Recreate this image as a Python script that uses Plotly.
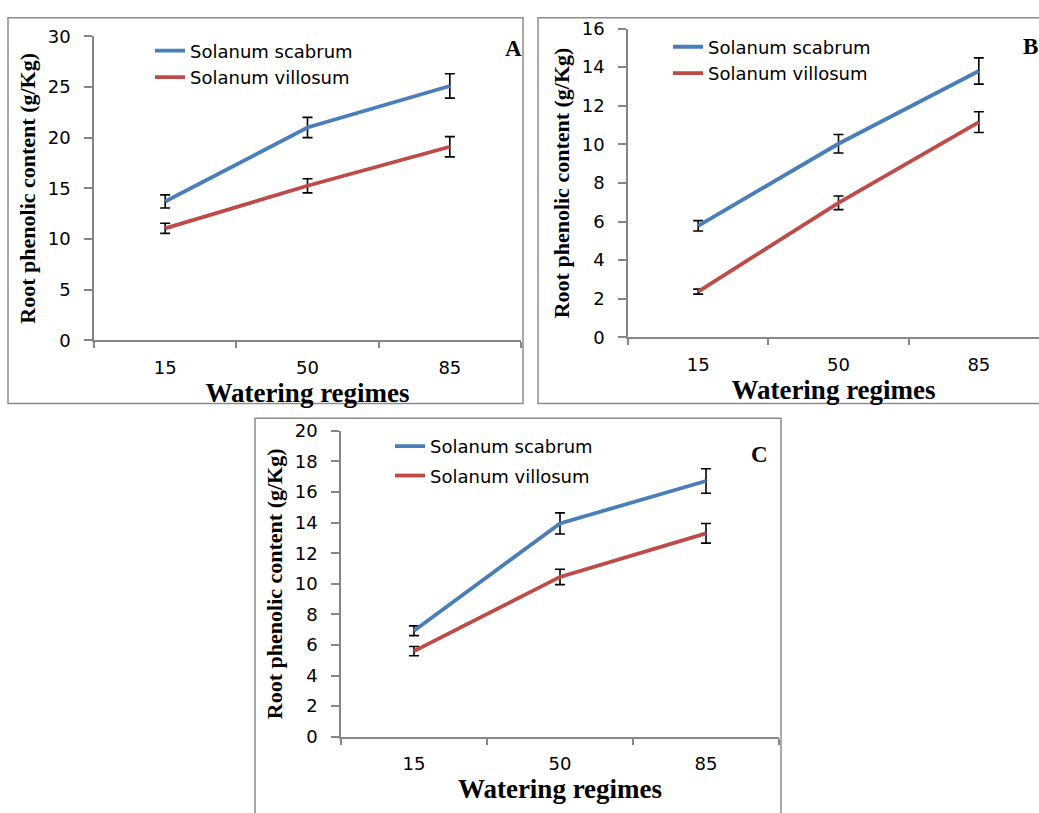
import plotly.graph_objects as go

W, H = 1039, 813

regimes = ["15", "50", "85"]

# Panel A
a_scabrum = [13.7, 21.0, 25.1]
a_scabrum_err = [0.65, 1.0, 1.2]
a_villosum = [11.05, 15.25, 19.1]
a_villosum_err = [0.5, 0.7, 1.0]

# Panel B
b_scabrum = [5.78, 10.03, 13.8]
b_scabrum_err = [0.27, 0.48, 0.68]
b_villosum = [2.37, 6.97, 11.15]
b_villosum_err = [0.13, 0.35, 0.54]

# Panel C
c_scabrum = [6.93, 13.95, 16.72]
c_scabrum_err = [0.32, 0.69, 0.8]
c_villosum = [5.6, 10.45, 13.3]
c_villosum_err = [0.3, 0.5, 0.64]

y_title = "Root phenolic content (g/Kg)"
x_title = "Watering regimes"
names = ["Solanum scabrum", "Solanum villosum"]

BLUE = "#4A7EBB"
RED = "#BE4B48"
GRAY = "#868686"
SANS = "DejaVu Sans"
SERIF = "Liberation Serif"


def px(x):
    return x / W


def py(y):
    return 1 - y / H


fig = go.Figure()

panels = [
    ("", (a_scabrum, a_scabrum_err, a_villosum, a_villosum_err), "legend",
     (94, 521), (26, 338), 30, 5, 2.5),
    ("2", (b_scabrum, b_scabrum_err, b_villosum, b_villosum_err), "legend2",
     (628, 1039), (18, 335), 16, 2, -0.5 + 3 * (1039 - 628) / (1049 - 628)),
    ("3", (c_scabrum, c_scabrum_err, c_villosum, c_villosum_err), "legend3",
     (341, 779), (431, 745), 20, 2, 2.5),
]

for i, (sfx, data, leg, xd, yd, ymax, dt, xend) in enumerate(panels):
    s, se, v, ve = data
    for vals, errs, name, col in ((s, se, names[0], BLUE), (v, ve, names[1], RED)):
        fig.add_trace(go.Scatter(
            x=regimes, y=vals, name=name, mode="lines",
            line=dict(color=col, width=3.8),
            error_y=dict(type="data", array=errs, visible=True,
                         color="black", thickness=1.6, width=5),
            xaxis="x" + sfx, yaxis="y" + sfx, legend=leg,
            legendgroup=f"{leg}_{name}",
        ))
    fig.layout["xaxis" + sfx] = dict(
        domain=[px(xd[0]), px(xd[1])], anchor="y" + sfx, type="category",
        range=[-0.5, xend], showline=True, linecolor=GRAY, linewidth=1.5,
        ticks="outside", tickson="boundaries", ticklen=6, tickcolor=GRAY,
        tickwidth=1.5, showgrid=False, zeroline=False,
        tickfont=dict(family=SANS, size=18, color="black"),
        ticklabelstandoff=10,
        title=dict(text=x_title, standoff=1,
                   font=dict(family=SERIF, size=27, color="black", weight="bold")),
    )
    fig.layout["yaxis" + sfx] = dict(
        domain=[py(yd[1]), py(yd[0])], anchor="x" + sfx,
        range=[0, ymax], dtick=dt, showline=True, linecolor=GRAY, linewidth=1.5,
        ticks="outside", ticklen=8, tickcolor=GRAY, tickwidth=1.5,
        showgrid=False, zeroline=False,
        tickfont=dict(family=SANS, size=18, color="black"),
        ticklabelstandoff=10,
        title=dict(text=y_title, standoff=6,
                   font=dict(family=SERIF, size=22, color="black", weight="bold")),
    )

legend_common = dict(font=dict(family=SANS, size=18, color="black"),
                     bgcolor="rgba(0,0,0,0)", borderwidth=0,
                     xanchor="left", yanchor="top", tracegroupgap=0)
fig.update_layout(
    legend=dict(x=px(150), y=py(22), **legend_common),
    legend2=dict(x=px(668), y=py(18), **legend_common),
    legend3=dict(x=px(390), y=py(428), **{**legend_common, "tracegroupgap": 3}),
)

# panel frames
frames = [(8, 7, 523, 403), (538, 7, 1060, 403), (255, 418, 781, 830)]
for x0, y0, x1, y1 in frames:
    fig.add_shape(type="rect", xref="paper", yref="paper",
                  x0=px(x0), x1=px(x1), y0=py(y1), y1=py(y0),
                  line=dict(color="#8C8C8C", width=1.5), layer="below")

for lab, (lx, ly) in zip(["A", "B", "C"], [(513, 39), (1030, 36), (759, 455)]):
    fig.add_annotation(text=lab, x=px(lx), y=py(ly), xref="paper", yref="paper",
                       showarrow=False, xanchor="center", yanchor="middle",
                       font=dict(family=SERIF, size=23, color="black", weight="bold"))

fig.update_layout(
    autosize=True,
    margin=dict(l=0, r=0, t=0, b=0),
    paper_bgcolor="white", plot_bgcolor="white",
    showlegend=True,
)

fig.write_html(
    "out.html",
    config={"displayModeBar": False, "responsive": True},
    default_width="100vw",
    default_height="100vh",
    post_script=(
        "document.documentElement.style.margin='0';"
        "document.documentElement.style.padding='0';"
        "document.documentElement.style.overflow='hidden';"
        "document.body.style.margin='0';"
        "document.body.style.padding='0';"
        "document.body.style.overflow='hidden';"
        "var gd=document.getElementById('{plot_id}');"
        "gd.style.width='100vw';gd.style.height='100vh';"
        "Plotly.Plots.resize(gd);"
    ),
)
